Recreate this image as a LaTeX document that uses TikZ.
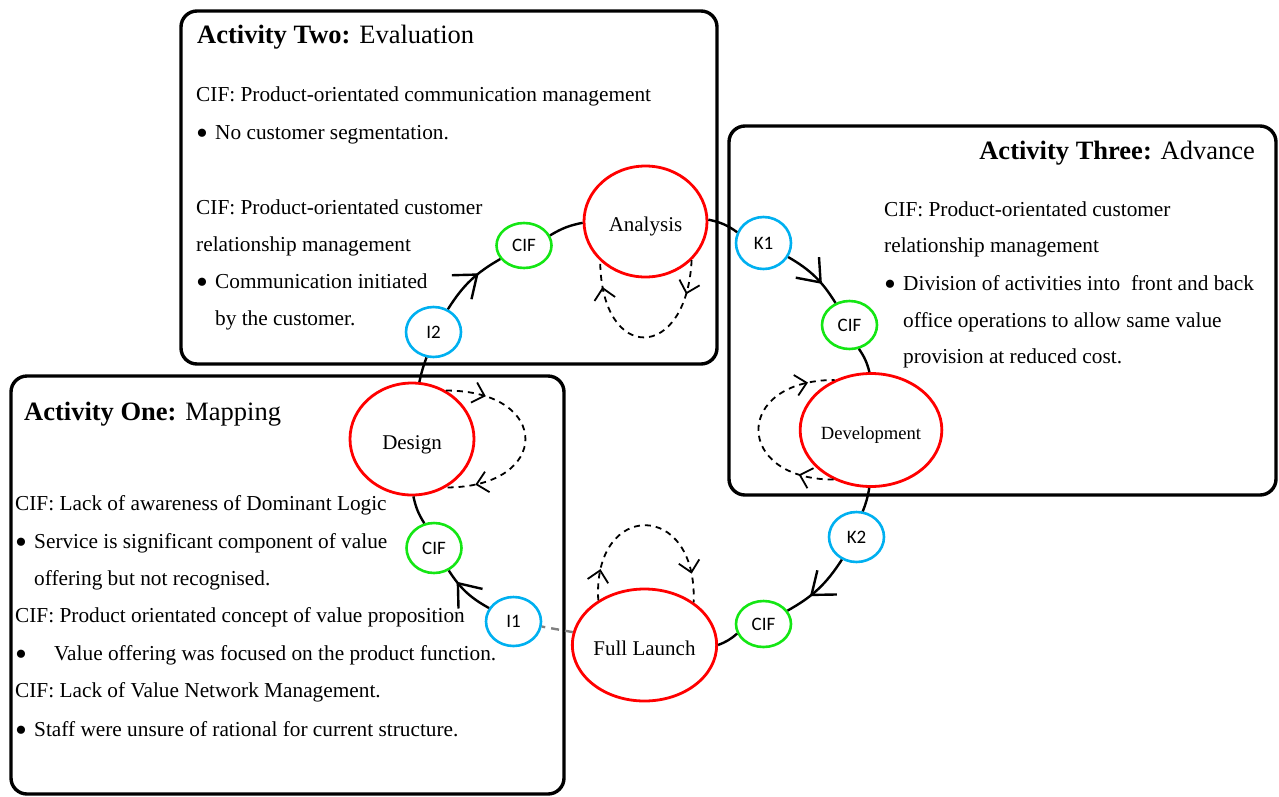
\documentclass[tikz,border=0pt]{standalone}
\usepackage{fontspec}
\setmainfont{Liberation Serif}
\newfontfamily\calfont{Carlito}
\usetikzlibrary{shapes.geometric,decorations.markings,topaths}

\definecolor{stagered}{RGB}{255,0,0}
\definecolor{cifgreen}{RGB}{20,230,20}
\definecolor{keyblue}{RGB}{0,176,240}

% list bullet, a little larger than the text font's own
\newcommand\listdot{\raisebox{-5pt}{\fontsize{34}{34}\selectfont\textbullet}}

\begin{document}
\begin{tikzpicture}[x=1pt,y=-1pt,
  panel/.style={draw=black,line width=3.4pt,rounded corners=16pt},
  stage/.style={ellipse,draw=stagered,line width=2.8pt,fill=white,inner sep=0pt,
    text height=20pt,text depth=0pt,font=\fontsize{21}{24}\selectfont},
  smallnode/.style={ellipse,line width=2.6pt,fill=white,inner sep=0pt,
    minimum width=55pt,font=\calfont\fontsize{19}{22}\selectfont},
  cif/.style={smallnode,draw=cifgreen},
  keynode/.style={smallnode,draw=keyblue},
  body/.style={anchor=base west,inner sep=0pt,font=\fontsize{21.3}{25}\selectfont},
  heading/.style={anchor=base west,inner sep=0pt,font=\fontsize{26.5}{30}\selectfont},
  flow/.style={draw=black,line width=2.4pt},
  flowarrow/.style={postaction={decorate,decoration={markings,
    mark=at position #1 with {\draw[solid,line width=2.4pt] (-20pt,15.5pt) -- (0pt,0pt) -- (-20pt,-15.5pt);}}}},
  loopline/.style 2 args={draw=black,line width=1.8pt,dash pattern=on 6pt off 5pt,
    postaction={decorate,decoration={markings,
      mark=at position #1 with {\draw[solid,line width=1.8pt] (-11pt,10.5pt) -- (0pt,0pt) -- (-11pt,-10.5pt);},
      mark=at position #2 with {\draw[solid,line width=1.8pt] (-11pt,10.5pt) -- (0pt,0pt) -- (-11pt,-10.5pt);}}}},
]
\useasboundingbox (0,0) rectangle (1279,796);

% activity panels
\draw[panel] (181,11) rectangle (717,364);
\draw[panel] (729,126) rectangle (1276,495);
\draw[panel] (11,376) rectangle (564,794);

% Activity Two text
\node[heading] (h2) at (197,43) {\textbf{Activity Two:} Evaluation};
\node[body] (t2a) at (196,101.5) {CIF: Product-orientated communication management};
\node[body] (t2b) at (196,139) {\listdot};
\node[body] (t2c) at (215,139) {No customer segmentation.};
\node[body] (t2d) at (196,214) {CIF: Product-orientated customer};
\node[body] (t2e) at (196,251) {relationship management};
\node[body] (t2f) at (196,288) {\listdot};
\node[body] (t2g) at (215,288) {Communication initiated};
\node[body] (t2h) at (215,325) {by the customer.};

% Activity Three text
\node[heading,anchor=base east] (h3) at (1255,159) {\textbf{Activity Three:} Advance};
\node[body] (t3a) at (884,216) {CIF: Product-orientated customer};
\node[body] (t3b) at (884,252.5) {relationship management};
\node[body] (t3c) at (884,290.5) {\listdot};
\node[body] (t3d) at (903,290.5) {Division of activities into\ \ front and back};
\node[body] (t3e) at (903,327) {office operations to allow same value};
\node[body] (t3f) at (903,363) {provision at reduced cost.};

% Activity One text
\node[heading] (h1) at (24,420) {\textbf{Activity One:} Mapping};
\node[body] (t1a) at (15,510) {CIF: Lack of awareness of Dominant Logic};
\node[body] (t1b) at (15,548) {\listdot};
\node[body] (t1c) at (34,548) {Service is significant component of value};
\node[body] (t1d) at (34,585) {offering but not recognised.};
\node[body] (t1e) at (15,622) {CIF: Product orientated concept of value proposition};
\node[body] (t1f) at (15,660) {\listdot};
\node[body] (t1g) at (54,660) {Value offering was focused on the product function.};
\node[body] (t1h) at (15,697) {CIF: Lack of Value Network Management.};
\node[body] (t1i) at (15,736) {\listdot};
\node[body] (t1j) at (34,736) {Staff were unsure of rational for current structure.};

% stages of the cycle
\node[stage,minimum width=123pt,minimum height=111pt] (ana) at (645.5,221.5) {Analysis};
\node[stage,minimum width=124pt,minimum height=112pt] (des) at (412,439) {Design};
\node[stage,minimum width=124pt,minimum height=113pt,text height=18pt,font=\fontsize{18.6}{22}\selectfont] (dev) at (871,430) {Development};
\node[stage,minimum width=123pt,minimum height=112pt] (fl) at (644.5,645) {Full Launch};

% critical incident and key nodes
\node[cif,minimum height=45pt] (cifa) at (524,245.5) {CIF};
\node[keynode,minimum height=50pt] (i2) at (433.5,332) {I2};
\node[keynode,minimum height=52pt] (k1) at (763.5,243) {K1};
\node[cif,minimum height=48pt] (cifd) at (849.5,325) {CIF};
\node[keynode,minimum height=50pt] (k2) at (856.5,537) {K2};
\node[cif,minimum height=46pt] (ciff) at (763.5,624) {CIF};
\node[cif,minimum height=50pt] (cifs) at (434,548) {CIF};
\node[keynode,minimum height=49pt] (i1) at (513.5,621.5) {I1};

% the cycle
\draw[flow] (ana) to[bend left=12] (k1);
\draw[flow,flowarrow=0.62] (k1) to[bend left=14] (cifd);
\draw[flow] (cifd) to[bend left=10] (dev);
\draw[flow] (dev) to[bend left=6] (k2);
\draw[flow,flowarrow=0.62] (k2) to[bend left=14] (ciff);
\draw[flow] (ciff) to[bend left=10] (fl);
\draw[gray,line width=2.4pt,dash pattern=on 8pt off 6pt] (fl) -- (i1);
\draw[flow,flowarrow=0.72] (i1) to[bend left=14] (cifs);
\draw[flow] (cifs) to[bend left=10] (des);
\draw[flow] (des) to[bend left=4] (i2);
\draw[flow,flowarrow=0.62] (i2) to[bend left=14] (cifa);
\draw[flow] (cifa) to[bend left=10] (ana);

% iteration loops
\draw[loopline={0.17}{0.86}] (ana.-40) .. controls +(-5,102) and +(1,103) .. (ana.-139);
\draw[loopline={0.19}{0.85}] (des.55) .. controls +(106,0) and +(106,0) .. (des.-55);
\draw[loopline={0.17}{0.86}] (dev.-127) .. controls +(-100,0) and +(-102,0) .. (dev.126);
\draw[loopline={0.15}{0.85}] (fl.136) .. controls +(-6,-100) and +(4,-103) .. (fl.41);
\end{tikzpicture}
\end{document}
